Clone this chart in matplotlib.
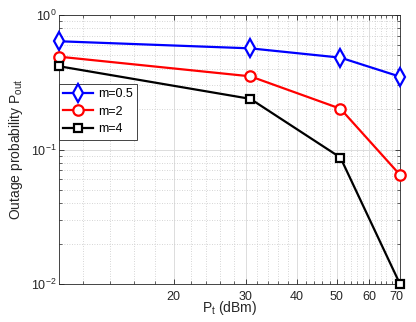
import numpy as np
import matplotlib
matplotlib.use('Agg')
import matplotlib.pyplot as plt
import matplotlib.ticker as tick

plt.rcParams['font.family'] = ['Liberation Sans', 'DejaVu Sans']
plt.rcParams['mathtext.fontset'] = 'custom'
plt.rcParams['mathtext.rm'] = 'Liberation Sans'
plt.rcParams['mathtext.it'] = 'Liberation Sans'

pt_dbm = [10.5, 30.75, 51, 71.25]
pout_m05 = [0.638, 0.565, 0.482, 0.348]
pout_m2 = [0.490, 0.350, 0.201, 0.0648]
pout_m4 = [0.416, 0.238, 0.0871, 0.0100]
labels = ['m=0.5', 'm=2', 'm=4']
x_ticks = [20, 30, 40, 50, 60, 70]

axis_gray = '#262626'

fig = plt.figure(figsize=(4.16, 3.22), dpi=100)
ax = fig.add_axes([0.1418, 0.118, 0.8197, 0.8354])

ax.plot(pt_dbm, pout_m05, color='#0000ff', lw=1.6, marker='d', ms=9,
        mfc='white', mew=1.6, label=labels[0], clip_on=False, zorder=3)
ax.plot(pt_dbm, pout_m2, color='#ff0000', lw=1.6, marker='o', ms=7.5,
        mfc='white', mew=1.6, label=labels[1], clip_on=False, zorder=3)
ax.plot(pt_dbm, pout_m4, color='black', lw=1.6, marker='s', ms=5.5,
        mfc='white', mew=1.6, label=labels[2], clip_on=False, zorder=3)

ax.set_xscale('log')
ax.set_yscale('log')
ax.set_xlim(pt_dbm[0], pt_dbm[-1])
ax.set_ylim(1e-2, 1)

ax.xaxis.set_major_locator(tick.FixedLocator(x_ticks))
ax.xaxis.set_major_formatter(tick.FixedFormatter([str(v) for v in x_ticks]))
minors = [v for v in range(12, 72, 2) if v not in x_ticks]
ax.xaxis.set_minor_locator(tick.FixedLocator(minors))
ax.xaxis.set_minor_formatter(tick.NullFormatter())
ax.yaxis.set_major_locator(tick.LogLocator(base=10, numticks=5))
ax.yaxis.set_minor_locator(tick.LogLocator(base=10, subs=np.arange(2, 10), numticks=20))
ax.yaxis.set_minor_formatter(tick.NullFormatter())

ax.grid(True, which='major', color='#dcdcdc', lw=0.7, ls='-')
ax.grid(True, which='minor', color='#c8c8c8', lw=0.6, ls=(0, (1, 2)))
ax.set_axisbelow(True)

ax.tick_params(which='both', direction='in', top=True, right=True,
               colors=axis_gray, labelsize=9, labelcolor=axis_gray)
ax.tick_params(which='major', length=3.5, width=0.6)
ax.tick_params(which='minor', length=2, width=0.5)
ax.tick_params(axis='x', which='major', pad=5)
ax.tick_params(axis='y', which='major', pad=2)
for s in ax.spines.values():
    s.set_color(axis_gray)
    s.set_linewidth(0.6)

ax.set_xlabel(r'P$_\mathrm{t}$ (dBm)', fontsize=10, color=axis_gray)
ax.xaxis.set_label_coords(0.5, -0.055)
ax.set_ylabel(r'Outage probability P$_\mathrm{out}$', fontsize=10, color=axis_gray)
ax.yaxis.set_label_coords(-0.1, 0.5)

leg = ax.legend(loc='upper left', bbox_to_anchor=(0.0, 0.744), fontsize=9,
                fancybox=False, framealpha=1, edgecolor=axis_gray,
                handlelength=2.4, borderpad=0.35, labelspacing=0.45,
                handletextpad=0.4, borderaxespad=0)
leg.get_frame().set_linewidth(0.6)

fig.savefig('out.png', dpi=100)
